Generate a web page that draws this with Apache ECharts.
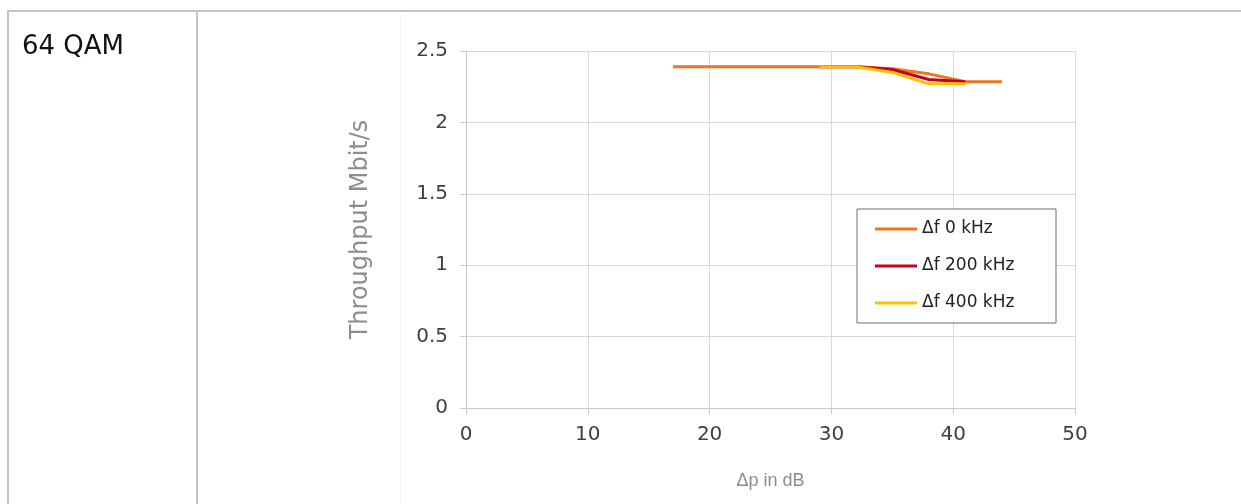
<!DOCTYPE html>
<html>
<head>
<meta charset="utf-8">
<script src="https://cdn.jsdelivr.net/npm/echarts@6/dist/echarts.min.js"></script>
<style>
html,body{margin:0;padding:0;background:#fff;width:1241px;height:504px;overflow:hidden;}
#tbl-top{position:absolute;left:7px;top:10px;width:1234px;height:2px;background:#c4c4c4;}
#tbl-left{position:absolute;left:7px;top:10px;width:2px;height:494px;background:#c4c4c4;}
#tbl-mid{position:absolute;left:196px;top:10px;width:2px;height:494px;background:#c4c4c4;}
#label{position:absolute;left:22px;top:30px;font-family:"DejaVu Sans",Verdana,sans-serif;font-size:26px;line-height:30px;color:#111;}
#chart{position:absolute;left:0;top:0;width:1241px;height:504px;}
</style>
</head>
<body>
<div id="chart"></div>
<div id="tbl-top"></div>
<div id="tbl-left"></div>
<div id="tbl-mid"></div>
<div id="label">64 QAM</div>
<script>
// Data (x: Δp in dB, y: throughput Mbit/s)
const seriesNames = ['Δf 0 kHz', 'Δf 200 kHz', 'Δf 400 kHz'];
const dp0 = [17, 20, 23, 26, 29, 32, 35, 38, 41, 44];
const tp0 = [2.39, 2.39, 2.39, 2.39, 2.39, 2.39, 2.375, 2.34, 2.285, 2.285];
const dp200 = [29, 32, 35, 38, 41];
const tp200 = [2.39, 2.39, 2.37, 2.30, 2.285];
const dp400 = [29, 32, 35, 38, 41];
const tp400 = [2.39, 2.39, 2.35, 2.27, 2.27];
const xTicks = [0, 10, 20, 30, 40, 50];
const yTicks = [0, 0.5, 1, 1.5, 2, 2.5];
const colors = ['#EE7421', '#C8001E', '#FFC000'];

function pairs(xs, ys) { return xs.map((x, i) => [x, ys[i]]); }

const chart = echarts.init(document.getElementById('chart'), null, {renderer: 'canvas'});
const axisFont = '"DejaVu Sans", Verdana, sans-serif';
chart.setOption({
  animation: false,
  graphic: [{
    type: 'line', shape: {x1: 400.5, y1: 14, x2: 400.5, y2: 504},
    style: {stroke: '#f3f3f3', lineWidth: 1}, silent: true
  }],
  grid: {left: 466, right: 166, top: 51, bottom: 96, containLabel: false},
  xAxis: {
    type: 'value', min: xTicks[0], max: xTicks[xTicks.length - 1], interval: 10,
    name: 'Δp in dB', nameLocation: 'middle', nameGap: 64,
    nameTextStyle: {fontFamily: '"Liberation Sans", Arial, sans-serif', fontSize: 18, color: '#8c8c8c'},
    axisLine: {show: true, lineStyle: {color: '#c8c8c8', width: 1}},
    axisTick: {show: true, length: 6, lineStyle: {color: '#c8c8c8'}},
    axisLabel: {fontFamily: axisFont, fontSize: 20, color: '#404040', margin: 17},
    splitLine: {show: true, lineStyle: {color: '#d9d9d9', width: 1}}
  },
  yAxis: {
    type: 'value', min: yTicks[0], max: yTicks[yTicks.length - 1], interval: 0.5,
    name: 'Throughput Mbit/s', nameLocation: 'middle', nameGap: 93, nameRotate: 90,
    nameTextStyle: {fontFamily: axisFont, fontSize: 24, color: '#8c8c8c'},
    axisLine: {show: true, lineStyle: {color: '#c8c8c8', width: 1}},
    axisTick: {show: true, length: 6, lineStyle: {color: '#c8c8c8'}},
    axisLabel: {fontFamily: axisFont, fontSize: 20, color: '#404040', margin: 18},
    splitLine: {show: true, lineStyle: {color: '#d9d9d9', width: 1}}
  },
  legend: {
    orient: 'vertical', left: 857, top: 209,
    padding: [11, 18, 11, 18],
    borderColor: '#6e6e6e', borderWidth: 1, borderRadius: 0,
    backgroundColor: '#fff',
    itemWidth: 42, itemHeight: 3, itemGap: 19,
    textStyle: {fontFamily: axisFont, fontSize: 17, lineHeight: 18, color: '#222', width: 116},
    data: seriesNames.map(n => ({name: n, icon: 'rect'}))
  },
  series: [
    {name: seriesNames[0], type: 'line', data: pairs(dp0, tp0), symbol: 'none',
     lineStyle: {color: colors[0], width: 3}, itemStyle: {color: colors[0]}, z: 3},
    {name: seriesNames[1], type: 'line', data: pairs(dp200, tp200), symbol: 'none',
     lineStyle: {color: colors[1], width: 3}, itemStyle: {color: colors[1]}, z: 4},
    {name: seriesNames[2], type: 'line', data: pairs(dp400, tp400), symbol: 'none',
     lineStyle: {color: colors[2], width: 3}, itemStyle: {color: colors[2]}, z: 5}
  ]
});
</script>
</body>
</html>
